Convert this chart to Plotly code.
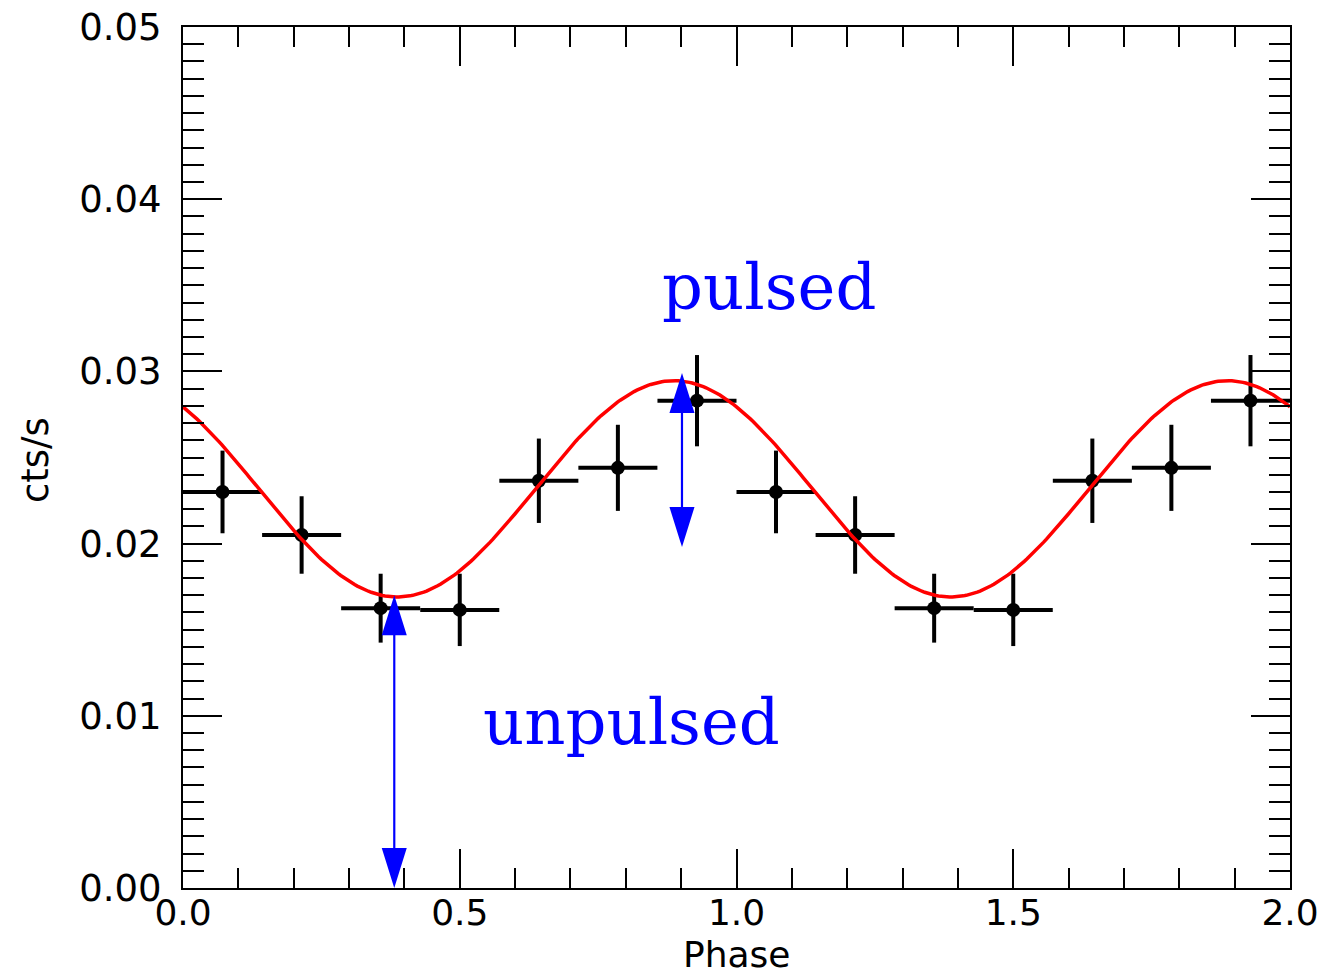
import numpy as np
import plotly.graph_objects as go

# ---- data ----
phase_centers = [0.0714, 0.2143, 0.3571, 0.5000, 0.6429, 0.7857, 0.9286]
phase_halfwidth = [0.0714] * 7
rate = [0.0230, 0.0205, 0.01625, 0.01615, 0.02365, 0.0244, 0.0283]
rate_err = [0.0024, 0.00225, 0.0020, 0.0021, 0.00245, 0.0025, 0.00265]

# sinusoidal model fit parameters
fit_mean = 0.02318
fit_amp = 0.00628
fit_peak_phase = 0.887

# annotation arrows (x, y_start, y_end)
pulsed_arrow = (0.9015, 0.0299, 0.0198)
unpulsed_arrow = (0.3817, 0.0170, 0.0)

x_ticks = [0.0, 0.5, 1.0, 1.5, 2.0]
x_ticklabels = ["0.0", "0.5", "1.0", "1.5", "2.0"]
y_ticks = [0.0, 0.01, 0.02, 0.03, 0.04, 0.05]
y_ticklabels = ["0.00", "0.01", "0.02", "0.03", "0.04", "0.05"]

# two cycles
xs = phase_centers + [p + 1 for p in phase_centers]
ys = rate + rate
xe = phase_halfwidth + phase_halfwidth
ye = rate_err + rate_err

phase_grid = np.linspace(0, 2, 401)
model = fit_mean + fit_amp * np.cos(2 * np.pi * (phase_grid - fit_peak_phase))

fig = go.Figure()
fig.add_trace(go.Scatter(
    x=xs, y=ys, mode="markers",
    marker=dict(color="black", size=14),
    error_x=dict(type="data", array=xe, color="black", thickness=4, width=0),
    error_y=dict(type="data", array=ye, color="black", thickness=4, width=0),
    showlegend=False, cliponaxis=False,
))
fig.add_trace(go.Scatter(
    x=phase_grid, y=model, mode="lines",
    line=dict(color="red", width=3.5), showlegend=False,
))

shapes = []
hw = 0.0226   # half width of arrow head (phase units)
hl = 0.00232  # length of arrow head (rate units)
for (ax, ya, yb) in [pulsed_arrow, unpulsed_arrow]:
    top, bot = max(ya, yb), min(ya, yb)
    shapes.append(dict(type="line", x0=ax, x1=ax, y0=bot + hl * 0.5, y1=top - hl * 0.5,
                       xref="x", yref="y", line=dict(color="blue", width=2.2)))
    shapes.append(dict(type="path", xref="x", yref="y",
                       path=f"M {ax-hw},{top-hl} L {ax+hw},{top-hl} L {ax},{top} Z",
                       fillcolor="blue", line=dict(color="blue", width=0)))
    shapes.append(dict(type="path", xref="x", yref="y",
                       path=f"M {ax-hw},{bot+hl} L {ax+hw},{bot+hl} L {ax},{bot} Z",
                       fillcolor="blue", line=dict(color="blue", width=0)))

annotations = [
    dict(x=1.059, y=0.0349, text="pulsed", showarrow=False, xref="x", yref="y",
         font=dict(family="DejaVu Serif", size=64, color="blue")),
    dict(x=0.811, y=0.00964, text="unpulsed", showarrow=False, xref="x", yref="y",
         font=dict(family="DejaVu Serif", size=64, color="blue")),
    # axis titles
    dict(x=0.5, y=-0.0767, text="Phase", showarrow=False, xref="paper", yref="paper",
         xanchor="center", yanchor="middle", borderpad=0,
         font=dict(family="DejaVu Sans", size=36, color="black")),
    dict(x=-0.1337, y=0.497, text="cts/s", showarrow=False, xref="paper", yref="paper",
         xanchor="center", yanchor="middle", textangle=-90,
         font=dict(family="DejaVu Sans", size=37, color="black")),
]

axis_common = dict(
    showline=True, linecolor="black", linewidth=2, mirror="ticks",
    ticks="inside", tickcolor="black", tickwidth=2, ticklen=39,
    showgrid=False, zeroline=False, automargin=False,
)

fig.update_layout(
    width=1324, height=974,
    margin=dict(l=183, r=34, t=27, b=86),
    paper_bgcolor="white", plot_bgcolor="white",
    shapes=shapes, annotations=annotations,
    xaxis=dict(range=[0, 2], tickvals=x_ticks, ticktext=x_ticklabels,
               minor=dict(dtick=0.1, ticks="inside", ticklen=20, tickwidth=2, tickcolor="black", showgrid=False),
               ticklabelstandoff=-8,
               tickfont=dict(family="DejaVu Sans", size=36, color="black"),
               **axis_common),
    yaxis=dict(range=[0, 0.05], tickvals=y_ticks, ticktext=y_ticklabels,
               minor=dict(dtick=0.001, ticks="inside", ticklen=21, tickwidth=2, tickcolor="black", showgrid=False),
               ticklabelstandoff=12,
               tickfont=dict(family="DejaVu Sans", size=37, color="black"),
               **axis_common),
)

fig.write_html("out.html")
